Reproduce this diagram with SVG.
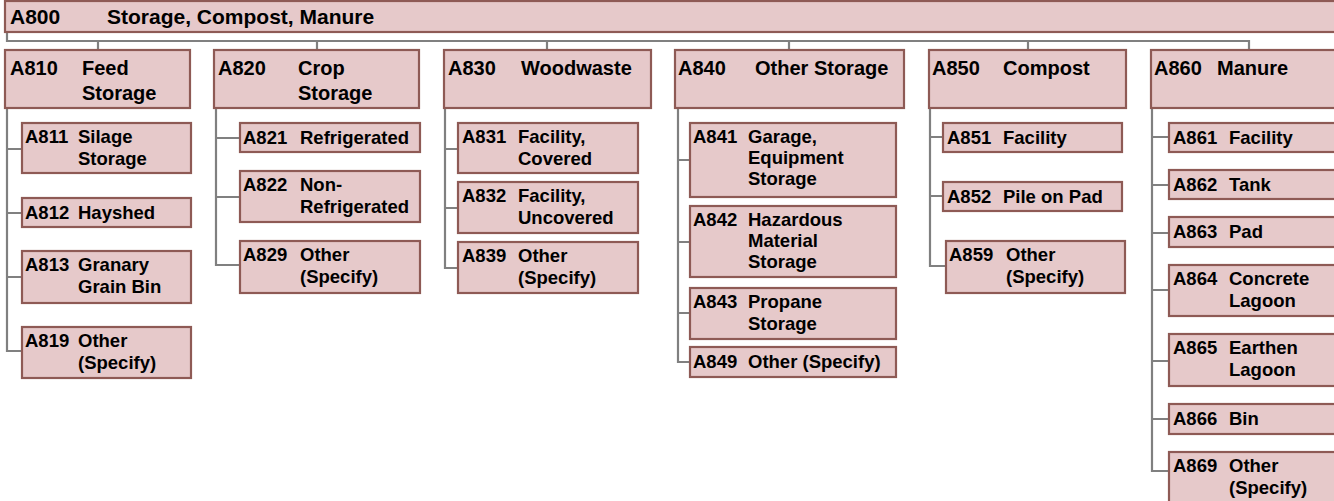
<svg xmlns="http://www.w3.org/2000/svg" width="1334" height="501" viewBox="0 0 1334 501">
<style>
.b{fill:#E6C9CA;stroke:#8E5A55;stroke-width:2.2}
.t{font-family:"Liberation Sans",Arial,sans-serif;font-weight:bold;font-size:18.5px;fill:#000}
.h{font-size:20px}
.ti{font-size:21px}
.c{fill:none;stroke:#808080;stroke-width:2.2}
</style>
<rect width="1334" height="501" fill="#fff"/>
<g id="connectors">
<path class="c" d="M7,32V41H1249V50M98,41V50M317,41V50M547,41V50M789,41V50M1028,41V50"/>
<path class="c" d="M7,108V351H22M7,149H22M7,213H22M7,277H22"/>
<path class="c" d="M216,108V265H240M216,138H240M216,197H240"/>
<path class="c" d="M445,108V268H458M445,149H458M445,208H458"/>
<path class="c" d="M678,108V362H690M678,160H690M678,242H690M678,313H690"/>
<path class="c" d="M930,108V266H946M930,137H943M930,196H943"/>
<path class="c" d="M1152,108V471H1169M1152,137H1169M1152,185H1169M1152,233H1169M1152,290H1169M1152,361H1169M1152,419H1169"/>
</g>
<g id="A800"><rect class="b" x="5" y="1" width="1340" height="31"/><text class="t ti"><tspan x="10" y="24">A800</tspan><tspan x="107" y="24">Storage, Compost, Manure</tspan></text></g>
<g id="A810"><rect class="b" x="5" y="50" width="185" height="58"/><text class="t h"><tspan x="10" y="75">A810</tspan><tspan x="82">Feed</tspan><tspan x="82" y="100">Storage</tspan></text></g>
<g id="A820"><rect class="b" x="214" y="50" width="205" height="58"/><text class="t h"><tspan x="218" y="75">A820</tspan><tspan x="298">Crop</tspan><tspan x="298" y="100">Storage</tspan></text></g>
<g id="A830"><rect class="b" x="444" y="50" width="207" height="58"/><text class="t h"><tspan x="448" y="75">A830</tspan><tspan x="521">Woodwaste</tspan></text></g>
<g id="A840"><rect class="b" x="675" y="50" width="229" height="58"/><text class="t h"><tspan x="678" y="75">A840</tspan><tspan x="755">Other Storage</tspan></text></g>
<g id="A850"><rect class="b" x="929" y="50" width="197" height="58"/><text class="t h"><tspan x="932" y="75">A850</tspan><tspan x="1003">Compost</tspan></text></g>
<g id="A860"><rect class="b" x="1151" y="50" width="200" height="58"/><text class="t h"><tspan x="1154" y="75">A860</tspan><tspan x="1217">Manure</tspan></text></g>

<g id="A811"><rect class="b" x="22" y="123" width="169" height="50"/><text class="t"><tspan x="25" y="143">A811</tspan><tspan x="78">Silage</tspan><tspan x="78" y="165">Storage</tspan></text></g>
<g id="A812"><rect class="b" x="22" y="198" width="169" height="29"/><text class="t"><tspan x="25" y="219">A812</tspan><tspan x="78">Hayshed</tspan></text></g>
<g id="A813"><rect class="b" x="22" y="251" width="169" height="52"/><text class="t"><tspan x="25" y="271">A813</tspan><tspan x="78">Granary</tspan><tspan x="78" y="293">Grain Bin</tspan></text></g>
<g id="A819"><rect class="b" x="22" y="327" width="169" height="51"/><text class="t"><tspan x="25" y="347">A819</tspan><tspan x="78">Other</tspan><tspan x="78" y="369">(Specify)</tspan></text></g>

<g id="A821"><rect class="b" x="240" y="123" width="180" height="29"/><text class="t"><tspan x="243" y="144">A821</tspan><tspan x="300">Refrigerated</tspan></text></g>
<g id="A822"><rect class="b" x="240" y="171" width="180" height="51"/><text class="t"><tspan x="243" y="191">A822</tspan><tspan x="300">Non-</tspan><tspan x="300" y="213">Refrigerated</tspan></text></g>
<g id="A829"><rect class="b" x="240" y="241" width="180" height="52"/><text class="t"><tspan x="243" y="261">A829</tspan><tspan x="300">Other</tspan><tspan x="300" y="283">(Specify)</tspan></text></g>

<g id="A831"><rect class="b" x="458" y="123" width="180" height="50"/><text class="t"><tspan x="462" y="143">A831</tspan><tspan x="518">Facility,</tspan><tspan x="518" y="165">Covered</tspan></text></g>
<g id="A832"><rect class="b" x="458" y="182" width="180" height="51"/><text class="t"><tspan x="462" y="202">A832</tspan><tspan x="518">Facility,</tspan><tspan x="518" y="224">Uncovered</tspan></text></g>
<g id="A839"><rect class="b" x="458" y="242" width="180" height="51"/><text class="t"><tspan x="462" y="262">A839</tspan><tspan x="518">Other</tspan><tspan x="518" y="284">(Specify)</tspan></text></g>

<g id="A841"><rect class="b" x="690" y="123" width="206" height="74"/><text class="t"><tspan x="693" y="143">A841</tspan><tspan x="748">Garage,</tspan><tspan x="748" y="164">Equipment</tspan><tspan x="748" y="185">Storage</tspan></text></g>
<g id="A842"><rect class="b" x="690" y="206" width="206" height="71"/><text class="t"><tspan x="693" y="226">A842</tspan><tspan x="748">Hazardous</tspan><tspan x="748" y="247">Material</tspan><tspan x="748" y="268">Storage</tspan></text></g>
<g id="A843"><rect class="b" x="690" y="288" width="206" height="51"/><text class="t"><tspan x="693" y="308">A843</tspan><tspan x="748">Propane</tspan><tspan x="748" y="330">Storage</tspan></text></g>
<g id="A849"><rect class="b" x="690" y="347" width="206" height="30"/><text class="t"><tspan x="693" y="368">A849</tspan><tspan x="748">Other (Specify)</tspan></text></g>

<g id="A851"><rect class="b" x="943" y="123" width="179" height="29"/><text class="t"><tspan x="947" y="144">A851</tspan><tspan x="1003">Facility</tspan></text></g>
<g id="A852"><rect class="b" x="943" y="182" width="179" height="29"/><text class="t"><tspan x="947" y="203">A852</tspan><tspan x="1003">Pile on Pad</tspan></text></g>
<g id="A859"><rect class="b" x="946" y="241" width="179" height="52"/><text class="t"><tspan x="949" y="261">A859</tspan><tspan x="1006">Other</tspan><tspan x="1006" y="283">(Specify)</tspan></text></g>

<g id="A861"><rect class="b" x="1169" y="123" width="200" height="29"/><text class="t"><tspan x="1173" y="144">A861</tspan><tspan x="1229">Facility</tspan></text></g>
<g id="A862"><rect class="b" x="1169" y="170" width="200" height="29"/><text class="t"><tspan x="1173" y="191">A862</tspan><tspan x="1229">Tank</tspan></text></g>
<g id="A863"><rect class="b" x="1169" y="217" width="200" height="30"/><text class="t"><tspan x="1173" y="238">A863</tspan><tspan x="1229">Pad</tspan></text></g>
<g id="A864"><rect class="b" x="1169" y="265" width="200" height="51"/><text class="t"><tspan x="1173" y="285">A864</tspan><tspan x="1229">Concrete</tspan><tspan x="1229" y="307">Lagoon</tspan></text></g>
<g id="A865"><rect class="b" x="1169" y="334" width="200" height="52"/><text class="t"><tspan x="1173" y="354">A865</tspan><tspan x="1229">Earthen</tspan><tspan x="1229" y="376">Lagoon</tspan></text></g>
<g id="A866"><rect class="b" x="1169" y="404" width="200" height="30"/><text class="t"><tspan x="1173" y="425">A866</tspan><tspan x="1229">Bin</tspan></text></g>
<g id="A869"><rect class="b" x="1169" y="452" width="200" height="60"/><text class="t"><tspan x="1173" y="472">A869</tspan><tspan x="1229">Other</tspan><tspan x="1229" y="494">(Specify)</tspan></text></g>
</svg>
